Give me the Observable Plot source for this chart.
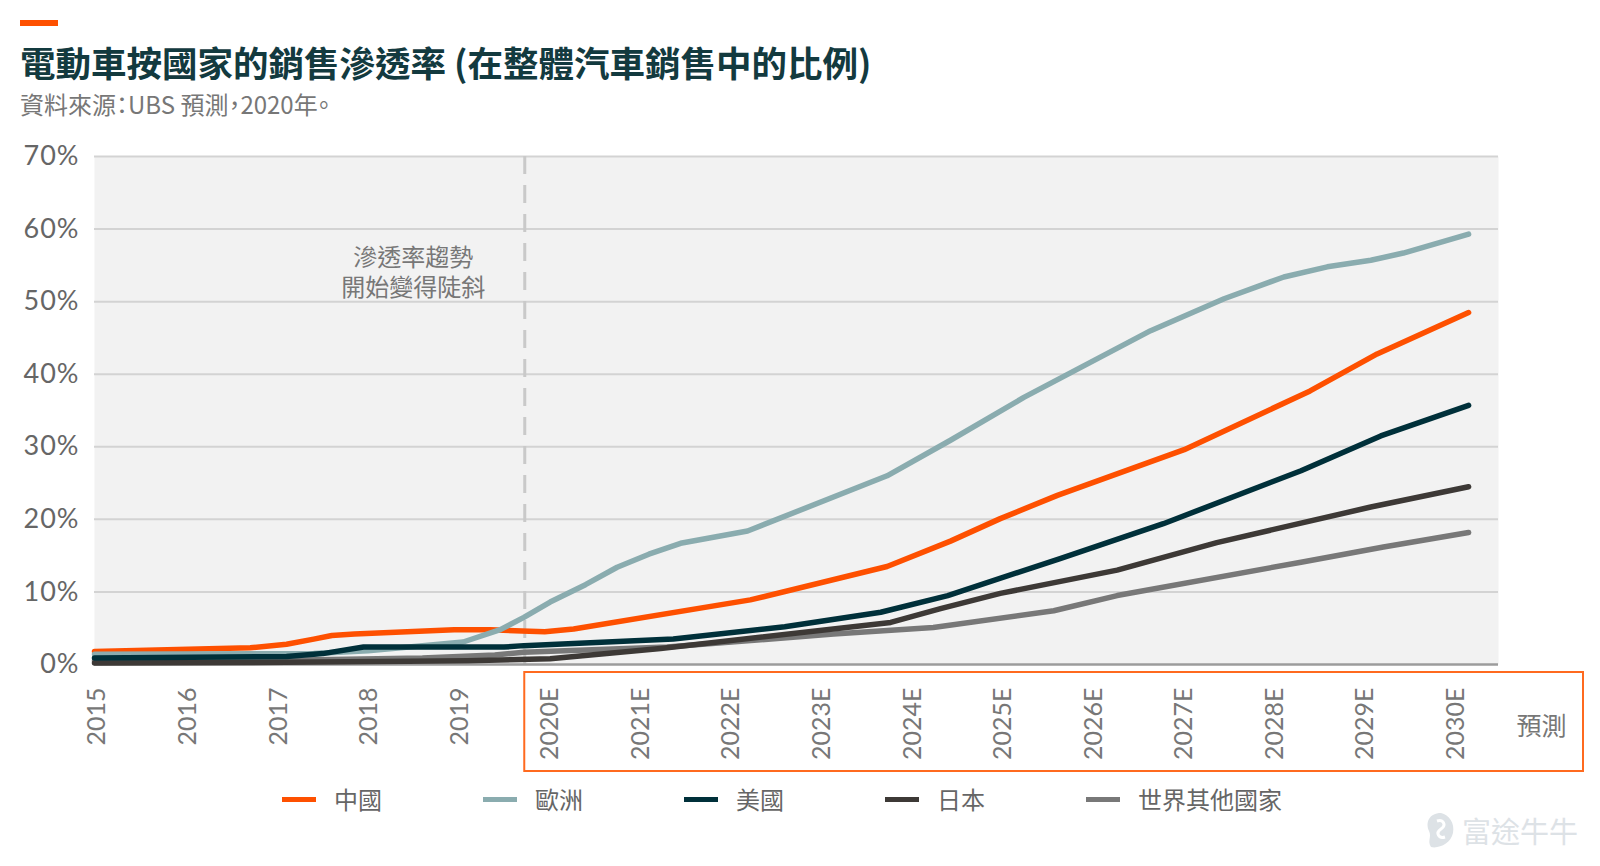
<!DOCTYPE html>
<html><head><meta charset="utf-8">
<script src="https://cdn.jsdelivr.net/npm/d3@7"></script>
<script src="https://cdn.jsdelivr.net/npm/@observablehq/plot@0.6"></script>
<style>
body{margin:0;background:#fff;width:1600px;height:866px;overflow:hidden;position:relative;font-family:Lato,"Noto Sans CJK TC",sans-serif;}
#bar{position:absolute;left:20px;top:20px;width:38px;height:6px;background:#fe5000;}
#title{position:absolute;left:20px;top:38px;font-family:"Noto Sans CJK TC";font-weight:700;font-size:35.5px;color:#133a3f;line-height:48px;white-space:nowrap;}
#subtitle{position:absolute;left:20px;top:89px;font-family:"Noto Sans CJK TC";font-size:24px;color:#777;line-height:30px;white-space:nowrap;font-feature-settings:"palt";}
#chart{position:absolute;left:0;top:140px;}
#legend{position:absolute;left:282px;top:783px;display:flex;}
.item{width:201px;display:flex;align-items:center;font-size:24px;color:#666;font-family:"Noto Sans CJK TC";line-height:32px;}
.sw{width:34px;height:5px;margin-right:18px;flex:none;}
#wm{position:absolute;left:1423px;top:810px;display:flex;align-items:center;color:#dde2e6;font-family:"Noto Sans CJK TC";font-size:29px;line-height:40px;}
</style></head>
<body>
<div id="bar"></div>
<div id="title">電動車按國家的銷售滲透率 (在整體汽車銷售中的比例)</div>
<div id="subtitle">資料來源：UBS 預測，2020年。</div>
<div id="chart"></div>
<div id="legend"></div>
<div id="wm"><svg width="36" height="38" viewBox="0 0 36 38"><path d="M18 2 C6 2 2 12 6 20 C9 26 4 30 8 36 C16 38 28 32 30 22 C32 12 26 4 18 2 Z" fill="#dde2e6"/><path d="M14 10 C20 8 24 14 18 18 C12 22 16 28 22 26" stroke="#fff" stroke-width="3" fill="none"/></svg><span style="margin-left:3px">富途牛牛</span></div>
<script>
// ---- data ----
const years = [2015,2016,2017,2018,2019,2020,2021,2022,2023,2024,2025,2026,2027,2028,2029,2030];
const yearLabels = ["2015","2016","2017","2018","2019","2020E","2021E","2022E","2023E","2024E","2025E","2026E","2027E","2028E","2029E","2030E"];
const yTicks = [0,10,20,30,40,50,60,70];
const seriesNames = ["中國","歐洲","美國","日本","世界其他國家"];
const seriesColors = ["#fe5000","#8aacaf","#00303a","#3d3936","#787878"];
const forecastStart = 2019.63;
const annotation = "滲透率趨勢\n開始變得陡斜";
const forecastLabel = "預測";

const chinaX = [2014.88,2016.6,2017.0,2017.3,2017.5,2017.75,2018.85,2019.25,2019.6,2019.85,2020.17,2022.12,2023.63,2024.33,2024.88,2025.51,2026.91,2028.3,2029.04,2030.05];
const chinaY = [1.8,2.3,2.8,3.5,4.0,4.2,4.8,4.8,4.6,4.5,4.9,8.9,13.5,17.0,20.1,23.3,29.6,37.7,42.8,48.5];

const europeX = [2014.88,2017.3,2017.9,2018.95,2019.36,2019.62,2019.91,2020.3,2020.65,2021.0,2021.35,2022.09,2023.63,2024.33,2025.14,2026.54,2027.35,2028.01,2028.49,2028.97,2029.33,2030.05];
const europeY = [1.4,1.5,1.9,3.1,4.8,6.5,8.6,11.0,13.4,15.2,16.7,18.4,26.0,30.9,36.8,46.0,50.4,53.4,54.8,55.7,56.7,59.3];

const usX = [2014.88,2017.0,2017.4,2017.85,2019.4,2019.62,2021.27,2022.5,2023.56,2024.3,2025.54,2026.68,2028.2,2029.08,2030.05];
const usY = [0.9,1.1,1.5,2.4,2.4,2.6,3.5,5.2,7.2,9.5,14.6,19.4,26.7,31.5,35.7];

const japanX = [2014.88,2017.0,2019.0,2019.91,2021.13,2023.67,2024.22,2024.88,2026.17,2027.27,2028.97,2030.05];
const japanY = [0.2,0.3,0.5,0.8,2.2,5.8,7.7,9.8,13.0,16.8,21.7,24.5];

const rowX = [2014.88,2017.0,2018.5,2019.3,2019.62,2021.2,2023.04,2024.14,2025.47,2026.17,2028.2,2029.11,2030.05];
const rowY = [0.5,0.6,0.9,1.3,1.7,2.4,4.2,5.1,7.4,9.5,14.1,16.2,18.2];

// ---- table ----
const seriesXY = {"中國":[chinaX,chinaY],"歐洲":[europeX,europeY],"美國":[usX,usY],"日本":[japanX,japanY],"世界其他國家":[rowX,rowY]};
const drawOrder = ["世界其他國家","日本","中國","歐洲","美國"];
const rows = [];
for (const s of drawOrder) {
  const [xs, ys] = seriesXY[s];
  xs.forEach((x, i) => rows.push({series: s, year: x, value: ys[i]}));
}

const forecastBox = (index, scales, values, dims) => {
  const x0 = scales.x(forecastStart);
  const y0 = dims.height - dims.marginBottom + 8;
  return d3.create("svg:rect")
    .attr("x", x0).attr("y", y0)
    .attr("width", dims.width - 17 - x0).attr("height", 99)
    .attr("fill", "none").attr("stroke", "#ff6a1f").attr("stroke-width", 2)
    .node();
};

const chart = Plot.plot({
  width: 1600,
  height: 650,
  marginLeft: 94,
  marginRight: 102,
  marginTop: 16,
  marginBottom: 126,
  style: {fontFamily: "Lato, 'Noto Sans CJK TC', sans-serif", background: "transparent", overflow: "visible"},
  x: {domain: [2014.88, 2030.38], axis: null},
  y: {domain: [0, 70], axis: null},
  color: {domain: seriesNames, range: seriesColors},
  marks: [
    Plot.frame({fill: "#f2f2f2", stroke: "none"}),
    Plot.ruleY(yTicks.filter(d => d > 0), {stroke: "#d3d3d3", strokeWidth: 2}),
    Plot.ruleX([forecastStart], {stroke: "#c9c9c9", strokeWidth: 3, strokeDasharray: "18,11"}),
    Plot.ruleY([0], {stroke: "#9c9c9c", strokeWidth: 2.5}),
    Plot.text(yTicks, {x: 2014.88, y: d => d, text: d => d + "%", textAnchor: "end", dx: -15, fontSize: 27, fill: "#666"}),
    Plot.text([annotation], {x: 2018.4, y: 54.1, text: d => d, lineHeight: 1.25, fontSize: 24, fill: "#777"}),
    Plot.line(rows, {x: "year", y: "value", z: "series", stroke: "series", strokeWidth: 5.5, curve: "linear", strokeLinejoin: "round"}),
    Plot.text(years, {x: d => d, frameAnchor: "bottom", text: (d, i) => yearLabels[i], rotate: -90, textAnchor: "end", dy: 23, fontSize: 25, fill: "#777"}),
    Plot.text([forecastLabel], {frameAnchor: "bottom-right", text: d => d, textAnchor: "middle", dx: 43, dy: 70, fontSize: 25, fill: "#777"}),
    forecastBox
  ]
});
chart.querySelectorAll("text").forEach(t => { if (/%$/.test(t.textContent)) t.setAttribute("letter-spacing", "1"); });
document.getElementById("chart").appendChild(chart);

// ---- legend ----
const legend = document.getElementById("legend");
seriesNames.forEach((s, i) => {
  const it = document.createElement("div");
  it.className = "item";
  it.innerHTML = `<span class="sw" style="background:${seriesColors[i]}"></span><span>${s}</span>`;
  legend.appendChild(it);
});
</script>
</body></html>
